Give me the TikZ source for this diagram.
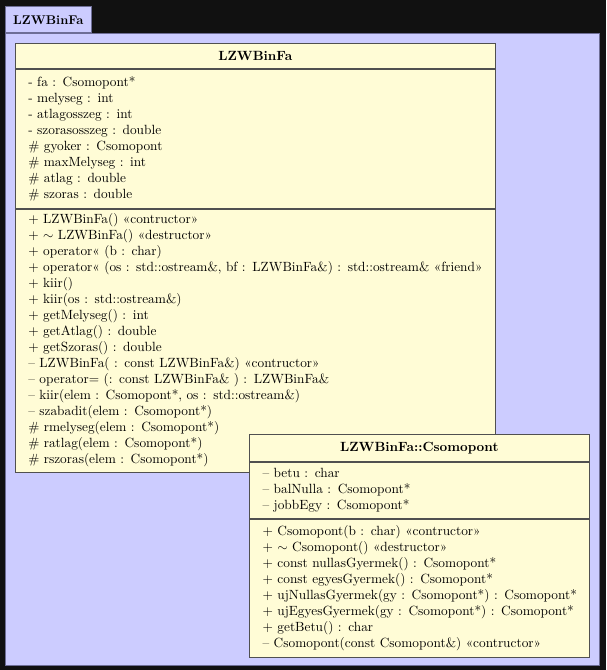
\documentclass[tikz,border=0pt]{standalone}
\usetikzlibrary{positioning}

\definecolor{darkbg}{RGB}{17,17,17}
\definecolor{pkgfill}{RGB}{204,204,255}
\definecolor{pkgline}{RGB}{110,110,150}
\definecolor{classfill}{RGB}{255,252,214}
\definecolor{classline}{RGB}{80,80,80}

\begin{document}
\begin{tikzpicture}[x=0.75pt, y=-0.75pt,
    pkgbox/.style={draw=pkgline, fill=pkgfill, anchor=north west, inner sep=0pt},
    classhead/.style={draw=classline, fill=classfill, anchor=north west, inner sep=0pt,
        font=\fontsize{10}{12}\selectfont\bfseries},
    classpart/.style={draw=classline, fill=classfill, anchor=north west,
        inner xsep=10pt, inner ysep=0pt, align=left,
        font=\fontsize{10}{12}\selectfont}]

    % canvas
    \useasboundingbox (0,0) rectangle (606,670);
    \fill [darkbg] (0,0) rectangle (606,670);

    % package with its tab
    \node [pkgbox, minimum width=445.5pt, minimum height=474pt] (pkg) at (5,33) {};
    \node [pkgbox, anchor=south west, minimum width=64.5pt, minimum height=19.5pt,
        font=\fontsize{9.5}{12}\selectfont\bfseries] (pkgtab) at (pkg.north west) {LZWBinFa};

    % class LZWBinFa
    \node [classhead, minimum width=360.5pt, minimum height=19.2pt] (lzwhead) at (14.7,42.7) {LZWBinFa};
    \node [classpart, text width=340.5pt, minimum height=104.5pt] (lzwattr) at (lzwhead.south west) {
        - fa : Csomopont*\\
        - melyseg : int\\
        - atlagosszeg : int\\
        - szorasosszeg : double\\
        \# gyoker : Csomopont\\
        \# maxMelyseg : int\\
        \# atlag : double\\
        \# szoras : double};
    \node [classpart, text width=340.5pt, minimum height=197.5pt] (lzwops) at (lzwattr.south west) {
        $+$ LZWBinFa() «contructor»\\
        $+$ $\sim$ LZWBinFa() «destructor»\\
        $+$ operator« (b : char)\\
        \mbox{$+$ operator« (os : std::ostream\&, bf : LZWBinFa\&) : std::ostream\& «friend»}\\
        $+$ kiir()\\
        $+$ kiir(os : std::ostream\&)\\
        $+$ getMelyseg() : int\\
        $+$ getAtlag() : double\\
        $+$ getSzoras() : double\\
        \textendash{} LZWBinFa( : const LZWBinFa\&) «contructor»\\
        \textendash{} operator= (: const LZWBinFa\& ) : LZWBinFa\&\\
        \textendash{} kiir(elem : Csomopont*, os : std::ostream\&)\\
        \textendash{} szabadit(elem : Csomopont*)\\
        \# rmelyseg(elem : Csomopont*)\\
        \# ratlag(elem : Csomopont*)\\
        \# rszoras(elem : Csomopont*)};

    % class LZWBinFa::Csomopont
    \node [classhead, minimum width=255pt, minimum height=20pt] (csohead) at (249,434.3) {LZWBinFa::Csomopont};
    \node [classpart, text width=235pt, minimum height=42.5pt] (csoattr) at (csohead.south west) {
        \textendash{} betu : char\\
        \textendash{} balNulla : Csomopont*\\
        \textendash{} jobbEgy : Csomopont*};
    \node [classpart, text width=235pt, minimum height=103.7pt] (csoops) at (csoattr.south west) {
        $+$ Csomopont(b : char) «contructor»\\
        $+$ $\sim$ Csomopont() «destructor»\\
        $+$ const nullasGyermek() : Csomopont*\\
        $+$ const egyesGyermek() : Csomopont*\\
        \mbox{$+$ ujNullasGyermek(gy : Csomopont*) : Csomopont*}\\
        \mbox{$+$ ujEgyesGyermek(gy : Csomopont*) : Csomopont*}\\
        $+$ getBetu() : char\\
        \textendash{} Csomopont(const Csomopont\&) «contructor»};

\end{tikzpicture}
\end{document}
